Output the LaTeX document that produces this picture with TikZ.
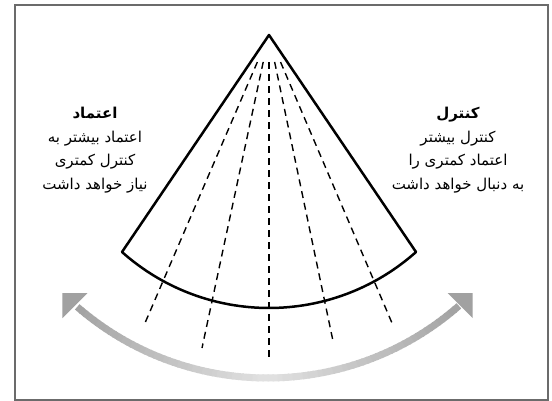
\documentclass[tikz,border=0pt]{standalone}
\usepackage{fontspec}
\newfontfamily\arabicfont[Script=Arabic]{DejaVu Sans}
\TeXXeTstate=1
\usetikzlibrary{calc}
\begin{document}
\begin{tikzpicture}[x=1pt,y=1pt,
  frame/.style={draw=black!58,line width=1.6pt},
  cone/.style={draw=black,line width=2.5pt,line join=round},
  ray/.style={draw=black,line width=1.4pt,dash pattern=on 7pt off 5pt},
  txt/.style={font=\arabicfont\fontsize{15}{23.5}\selectfont,align=center,text=black},
  head/.style={fill=black!37,draw=none}]
\useasboundingbox (0,0) rectangle (552,-401);
\fill[white] (0,0) rectangle (552,-401);
\draw[frame] (15,-5) rectangle (548,-400);
% cone
\coordinate (A) at (269,-35);
\coordinate (L) at (122,-252);
\draw[cone] (A) -- (L) arc[start angle=228.3,end angle=311.7,radius=221] -- cycle;
% rays
\coordinate (e1) at (145,-323);
\coordinate (e2) at (202,-348);
\coordinate (e3) at (269,-358);
\coordinate (e4) at (333,-341);
\coordinate (e5) at (392,-323);
\draw[ray] ($(A)!0.094!(e1)$) -- (e1);
\draw[ray] ($(A)!0.086!(e2)$) -- (e2);
\draw[ray] ($(A)!0.084!(e3)$) -- (e3);
\draw[ray] ($(A)!0.088!(e4)$) -- (e4);
\draw[ray] ($(A)!0.094!(e5)$) -- (e5);
% grey double arrow
\coordinate (C) at (267.5,-88);
\foreach \a in {229,230,...,310}{
  \pgfmathtruncatemacro\p{12+25*abs(\a+0.5-270)/41}
  \draw[black!\p,line width=7pt] ($(C)+(\a:290)$) arc[start angle=\a,end angle=\a+1.3,radius=290];
}
\coordinate (tl) at ($(C)+(225:290)$);
\coordinate (tr) at ($(C)+(315:290)$);
\fill[head] (tl) -- ++(25,0) -- ++(-25,-25) -- cycle;
\fill[head] (tr) -- ++(-25,0) -- ++(25,-25) -- cycle;
% texts
\node[txt] (lt) at (95,-150) {{\bfseries\beginR اعتماد\endR}\\ \beginR اعتماد بیشتر به\endR\\ \beginR کنترل کمتری\endR\\ \beginR نیاز خواهد داشت\endR};
\node[txt] (rt) at (458,-150) {{\bfseries\beginR کنترل\endR}\\ \beginR کنترل بیشتر\endR\\ \beginR اعتماد کمتری را\endR\\ \beginR به دنبال خواهد داشت\endR};
\end{tikzpicture}
\end{document}
